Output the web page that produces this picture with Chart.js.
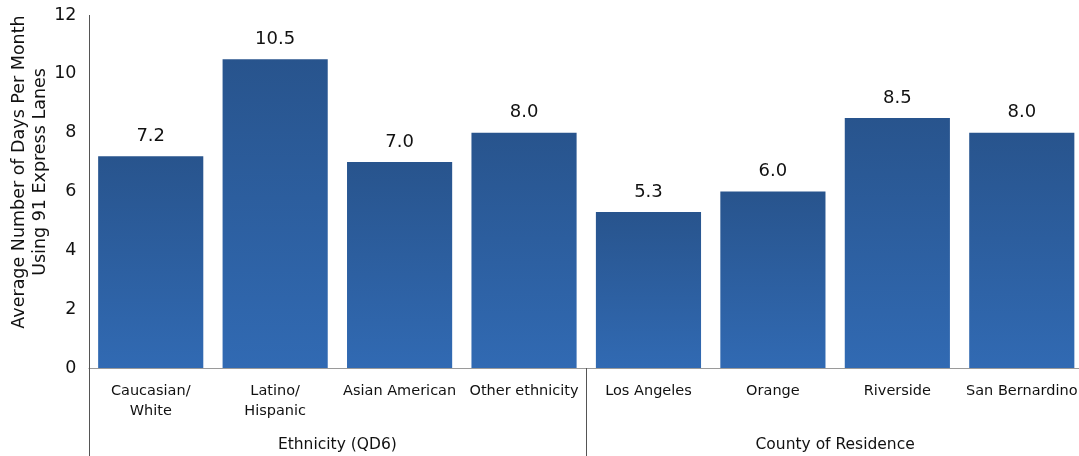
<!DOCTYPE html>
<html>
<head>
<meta charset="utf-8">
<script src="https://cdn.jsdelivr.net/npm/chart.js@4/dist/chart.umd.min.js"></script>
<style>
html,body{margin:0;padding:0;background:#fff;overflow:hidden;width:1079px;height:456px;}
#wrap{position:relative;width:1085px;height:456px;}
</style>
</head>
<body>
<div id="wrap"><canvas id="c"></canvas></div>
<script>
const categories = [['Caucasian/','White'], ['Latino/','Hispanic'], 'Asian American', 'Other ethnicity', 'Los Angeles', 'Orange', 'Riverside', 'San Bernardino'];
const values = [7.2, 10.5, 7.0, 8.0, 5.3, 6.0, 8.5, 8.0];
const groups = ['Ethnicity (QD6)', 'County of Residence'];
const groupSizes = [4, 4];
const yTitle = ['Average Number of Days Per Month', 'Using 91 Express Lanes'];
const yTicks = [0, 2, 4, 6, 8, 10, 12];

const FONT = "'DejaVu Sans', sans-serif";
const TEXT = '#111';

const decor = {
  id: 'decor',
  afterDatasetsDraw(chart) {
    const c = chart.ctx, a = chart.chartArea;
    c.save();
    // value labels
    c.fillStyle = TEXT;
    c.font = '18px ' + FONT;
    c.textAlign = 'center';
    c.textBaseline = 'middle';
    const meta = chart.getDatasetMeta(0);
    meta.data.forEach((bar, i) => {
      c.fillText(values[i].toFixed(1), bar.x, bar.y - 20);
    });
    // axis lines
    c.lineWidth = 1;
    c.strokeStyle = '#9a9a9a';
    c.beginPath();
    c.moveTo(a.left, Math.round(a.bottom) + 0.5);
    c.lineTo(a.right, Math.round(a.bottom) + 0.5);
    c.stroke();
    c.strokeStyle = '#555';
    c.beginPath();
    c.moveTo(Math.round(a.left) + 0.5, a.top);
    c.lineTo(Math.round(a.left) + 0.5, chart.height);
    c.stroke();
    // group separators and labels
    const step = (a.right - a.left) / categories.length;
    let start = 0;
    c.font = '15.5px ' + FONT;
    groupSizes.forEach((n, gi) => {
      const x0 = a.left + start * step, x1 = a.left + (start + n) * step;
      if (gi > 0) {
        c.strokeStyle = '#555';
        c.beginPath();
        c.moveTo(Math.round(x0) + 0.5, a.bottom);
        c.lineTo(Math.round(x0) + 0.5, chart.height);
        c.stroke();
      }
      c.fillStyle = TEXT;
      c.fillText(groups[gi], (x0 + x1) / 2, 445);
      start += n;
    });
    // y title
    c.font = '17.5px ' + FONT;
    [[19, yTitle[0]], [40, yTitle[1]]].forEach(([tx, t]) => {
      c.save();
      c.translate(tx, 172);
      c.rotate(-Math.PI / 2);
      c.fillText(t, 0, 0);
      c.restore();
    });
    c.restore();
  }
};

new Chart(document.getElementById('c'), {
  type: 'bar',
  data: {
    labels: categories,
    datasets: [{
      data: values,
      backgroundColor: (ctx) => {
        const chart = ctx.chart;
        if (!chart.chartArea || ctx.raw === undefined) return '#2c5fa0';
        const ys = chart.scales.y;
        const top = ys.getPixelForValue(ctx.raw);
        const base = ys.getPixelForValue(0);
        const g = chart.ctx.createLinearGradient(0, top, 0, base);
        g.addColorStop(0, '#28548d');
        g.addColorStop(1, '#316ab3');
        return g;
      },
      borderWidth: 0,
      categoryPercentage: 1.0,
      barPercentage: 0.845
    }]
  },
  options: {
    responsive: true,
    maintainAspectRatio: false,
    animation: false,
    devicePixelRatio: 1,
    layout: { padding: { top: 15, right: 1, left: 0, bottom: 0 } },
    plugins: { legend: { display: false }, tooltip: { enabled: false } },
    scales: {
      x: {
        grid: { display: false, drawTicks: false },
        border: { display: false },
        ticks: {
          color: TEXT, font: { family: FONT, size: 14.5, lineHeight: 1.38 },
          padding: 13, maxRotation: 0, autoSkip: false
        },
        afterFit: (s) => { s.height = 88; s.paddingLeft = 0; s.paddingRight = 0; }
      },
      y: {
        min: 0, max: 12,
        grid: { display: false, drawTicks: false },
        border: { display: false },
        afterBuildTicks: (s) => { s.ticks = yTicks.map(v => ({ value: v })); },
        ticks: { color: TEXT, font: { family: FONT, size: 17.5 }, padding: 12 },
        afterFit: (s) => { s.width = 88.5; s.paddingTop = 0; s.paddingBottom = 0; }
      }
    }
  },
  plugins: [decor]
});
</script>
</body>
</html>
